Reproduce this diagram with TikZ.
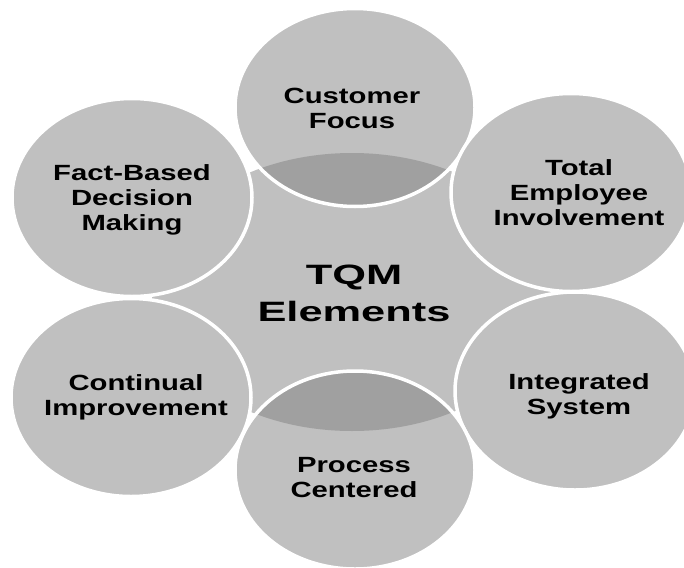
\documentclass[tikz,border=0pt]{standalone}
\usepackage{fontspec}
\setmainfont{Liberation Sans}

\definecolor{tqmgray}{RGB}{192,192,192}
\definecolor{tqmdark}{RGB}{160,160,160}

\tikzset{
  elem/.style={fill=tqmgray},
  rim/.style={draw=white, line width=3.5pt},
  lens/.style={fill=tqmdark},
  elemtext/.style={align=center, xscale=1.33, font=\fontsize{22}{25}\selectfont\bfseries},
  hubtext/.style={align=center, xscale=1.55, font=\fontsize{28}{37}\selectfont\bfseries},
}

\begin{document}
\begin{tikzpicture}[x=1pt,y=-1pt]
		\useasboundingbox (0,0) rectangle (684,567);
		% hub
		\fill[elem] (352,292) ellipse [x radius=200, y radius=139];
		%
		% top and bottom ones show the darker overlap
		\fill[elem] (355,107.5) ellipse [x radius=120, y radius=99];
		\begin{scope}
			\clip (355,107.5) ellipse [x radius=120, y radius=99];
			\fill[lens] (352,292) ellipse [x radius=200, y radius=139];
		\end{scope}
		\draw[rim] (355,107.5) ellipse [x radius=120, y radius=99];
		%
		\fill[elem] (571,192.5) ellipse [x radius=120, y radius=99];
		\draw[rim] (571,192.5) ellipse [x radius=120, y radius=99];
		\fill[elem] (575,391) ellipse [x radius=120, y radius=99];
		\draw[rim] (575,391) ellipse [x radius=120, y radius=99];
		%
		\fill[elem] (355,470) ellipse [x radius=120, y radius=99];
		\begin{scope}
			\clip (355,470) ellipse [x radius=120, y radius=99];
			\fill[lens] (352,292) ellipse [x radius=200, y radius=139];
		\end{scope}
		\draw[rim] (355,470) ellipse [x radius=120, y radius=99];
		%
		\fill[elem] (131,397.5) ellipse [x radius=120, y radius=99];
		\draw[rim] (131,397.5) ellipse [x radius=120, y radius=99];
		\fill[elem] (132,197.5) ellipse [x radius=120, y radius=99];
		\draw[rim] (132,197.5) ellipse [x radius=120, y radius=99];
		%
		% labels
		\node[hubtext] (hub) at (354,293) {TQM\\Elements};
		\node[elemtext] (customer) at (352,108) {Customer\\Focus};
		\node[elemtext] (employee) at (579,193) {Total\\Employee\\Involvement};
		\node[elemtext] (system) at (579,396) {Integrated\\System};
		\node[elemtext] (process) at (354,478) {Process\\Centered};
		\node[elemtext] (improve) at (136,397) {Continual\\Improvement};
		\node[elemtext] (decision) at (132,200) {Fact-Based\\Decision\\Making};
	\end{tikzpicture}
\end{document}
